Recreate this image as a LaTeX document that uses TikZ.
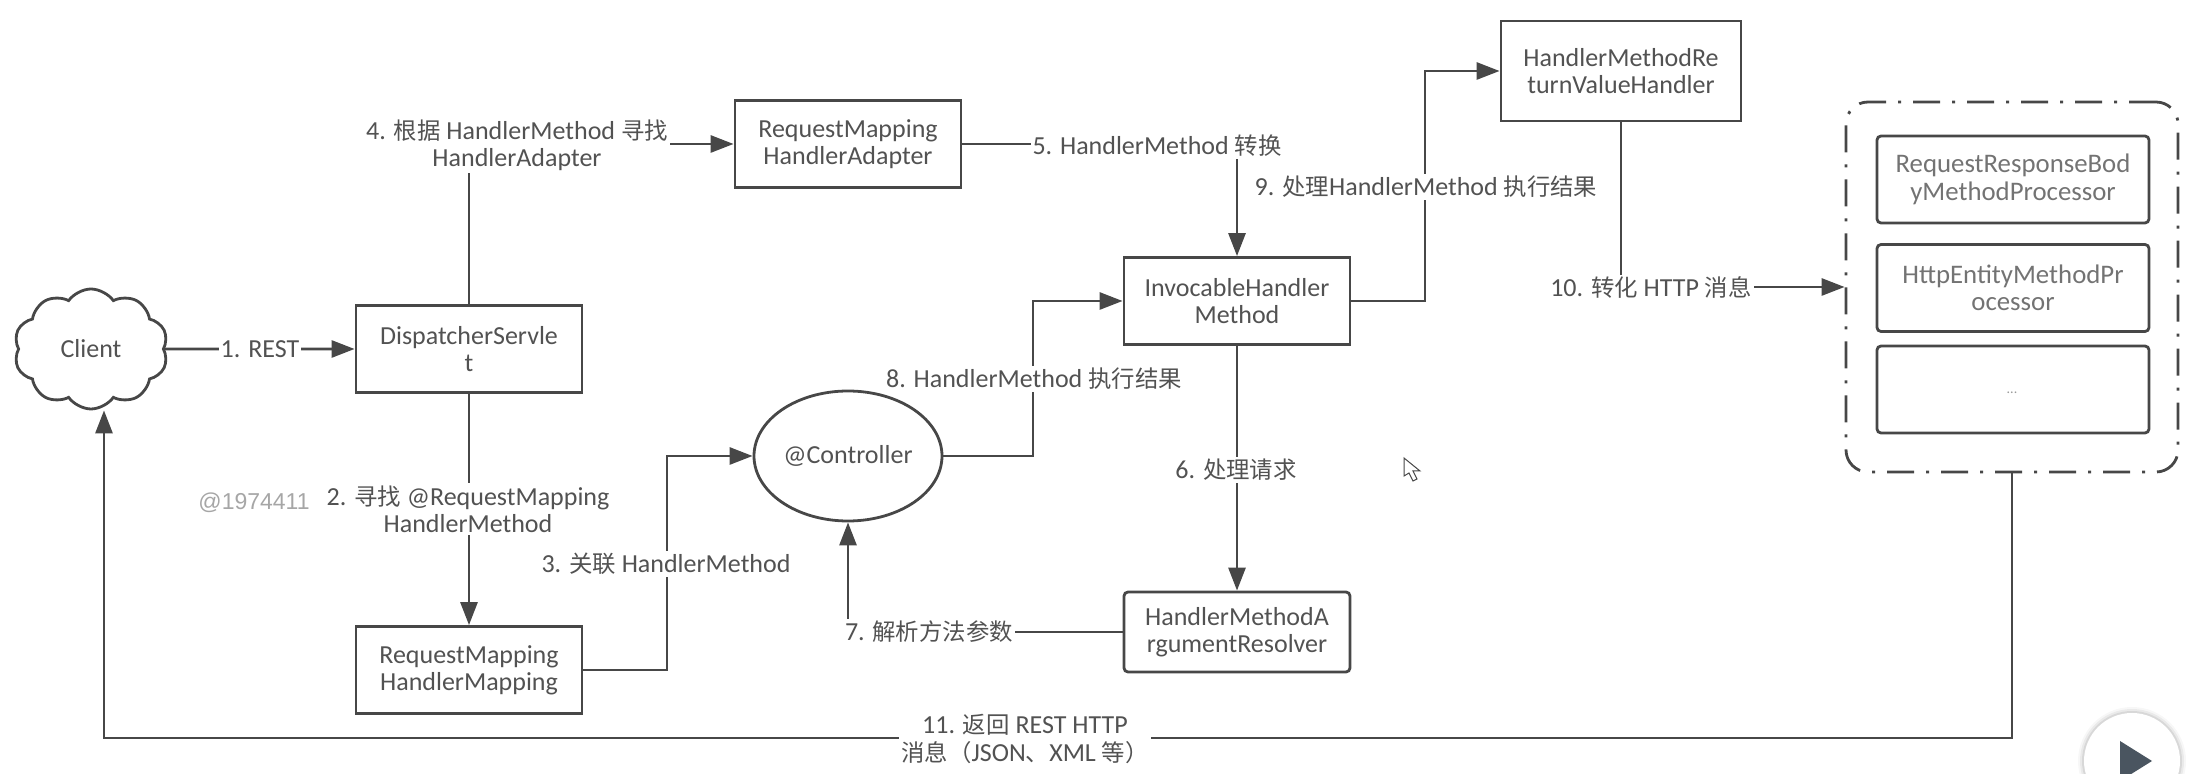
\documentclass[tikz,border=0pt]{standalone}
\usepackage{fontspec}
\setmainfont{Carlito}
\newfontfamily\cjk[Scale=0.9]{Noto Sans CJK SC}
\newfontfamily\marksans{Liberation Sans}
\usetikzlibrary{shapes.symbols, shapes.geometric, arrows.meta}
\definecolor{playgrey}{HTML}{4A5560}

\begin{document}
\begin{tikzpicture}[x=0.5pt, y=-0.5pt, line width=1.4pt, color=black!72,
    >={Triangle[length=11.5pt, width=8.5pt]},
    txt/.style = {text=black!68, font=\fontsize{13}{13.7}\selectfont, align=center},
    main/.style = {txt, draw, minimum width=113pt, minimum height=43.5pt, inner sep=0pt, fill=white},
    sub/.style = {txt, draw, rounded corners=2pt, minimum width=136pt, minimum height=43.5pt, inner sep=0pt, text=black!55, font=\fontsize{13.4}{13.7}\selectfont},
    lbl/.style = {txt, fill=white, inner sep=1pt}]
    \clip (0,0) rectangle (2202,774);

    \node[txt, draw, cloud, cloud puffs=10, cloud puff arc=110, aspect=1.25, minimum width=77pt, minimum height=60pt, inner sep=0pt] (client) at (91,349) {Client};
    \node[main] (dispatcher) at (469,349) {DispatcherServle\\t};
    \node[main] (mapping) at (469,670) {RequestMapping\\HandlerMapping};
    \node[main] (adapter) at (848,144) {RequestMapping\\HandlerAdapter};
    \node[main] (invocable) at (1237,301) {InvocableHandler\\Method};
    \node[main, minimum width=120pt, minimum height=50pt] (returnhandler) at (1621,71) {HandlerMethodRe\\turnValueHandler};
    \node[main, rounded corners=2pt, minimum height=40pt] (resolver) at (1237,632) {HandlerMethodA\\rgumentResolver};
    \node[txt, draw, ellipse, minimum width=94pt, minimum height=65pt, inner sep=0pt] (controller) at (848,456) {@Controller};

    \node[draw, rounded corners=11pt, dash pattern=on 13.5pt off 6pt on 1.5pt off 6pt, minimum width=166pt, minimum height=185pt] (processors) at (2012,287) {};
    \node[sub] (body) at (2013,179.5) {RequestResponseBod\\yMethodProcessor};
    \node[sub] (entity) at (2013,288) {HttpEntityMethodPr\\ocessor};
    \node[sub] (others) at (2013,389.5) {};
    \node[text=black!40, font=\fontsize{7}{8}\selectfont] (dots) at (2012,393) {...};

    \coordinate (bendrest) at (667,564);
    \coordinate (bendresult) at (1033,379);
    \coordinate (bendreturn) at (1425,187);
    \coordinate (bendback) at (1025,738);

    \draw[->] (client.east) -- (dispatcher.west);
    \draw[->] (dispatcher.south) -- (mapping.north);
    \draw[->] (mapping.east) -| (bendrest) |- (controller.west);
    \draw[->] (dispatcher.north) |- (adapter.west);
    \draw[->] (adapter.east) -| (invocable.north);
    \draw[->] (invocable.south) -- (resolver.north);
    \draw[->] (resolver.west) -| (controller.south);
    \draw[->] (controller.east) -| (bendresult) |- (invocable.west);
    \draw[->] (invocable.east) -| (bendreturn) |- (returnhandler.west);
    \draw[->] (returnhandler.south) |- (processors.west);
    \draw[->] (processors.south) |- (bendback) -| ([xshift=6.5pt]client.south);

    \node[lbl] (l1) at (260,349) {1. REST};
    \node[lbl] (l2) at (468,509) {2. {\cjk 寻找} @RequestMapping\\HandlerMethod};
    \node[lbl] (l3) at (666,564) {3. {\cjk 关联} HandlerMethod};
    \node[lbl] (l4) at (517,145) {4. {\cjk 根据} HandlerMethod {\cjk 寻找}\\HandlerAdapter};
    \node[lbl] (l5) at (1157,146) {5. HandlerMethod {\cjk 转换}};
    \node[lbl] (l6) at (1236,470) {6. {\cjk 处理请求}};
    \node[lbl] (l7) at (929,632) {7. {\cjk 解析方法参数}};
    \node[lbl] (l8) at (1034,379) {8. HandlerMethod {\cjk 执行结果}};
    \node[lbl] (l9) at (1426,187) {9. {\cjk 处理}HandlerMethod {\cjk 执行结果}};
    \node[lbl] (l10) at (1651,288) {10. {\cjk 转化} HTTP {\cjk 消息}};
    \node[lbl] (l11) at (1025,739) {11. {\cjk 返回} REST HTTP\\{\cjk 消息（}JSON{\cjk 、}XML {\cjk 等）}};

    \node[text=black!35, font=\marksans\fontsize{11.5}{13}\selectfont] (mark) at (254,503) {@1974411};

    % cursor and player button of the screenshot
    \draw[line width=0.5pt, fill=white] (1404,458) -- (1404,476) -- (1409,473) -- (1413,481) -- (1417,479) -- (1413,471) -- (1420,471) -- cycle;
    \foreach \r/\o in {54/0.03, 52/0.05, 50/0.08}
        \fill[black, opacity=\o] (2132,761) circle[radius=\r];
    \node[circle, fill=white, minimum size=48pt, inner sep=0pt] (play) at (2132,761) {};
    \fill[playgrey] (2120,741) -- (2152,761) -- (2120,781) -- cycle;
\end{tikzpicture}
\end{document}
